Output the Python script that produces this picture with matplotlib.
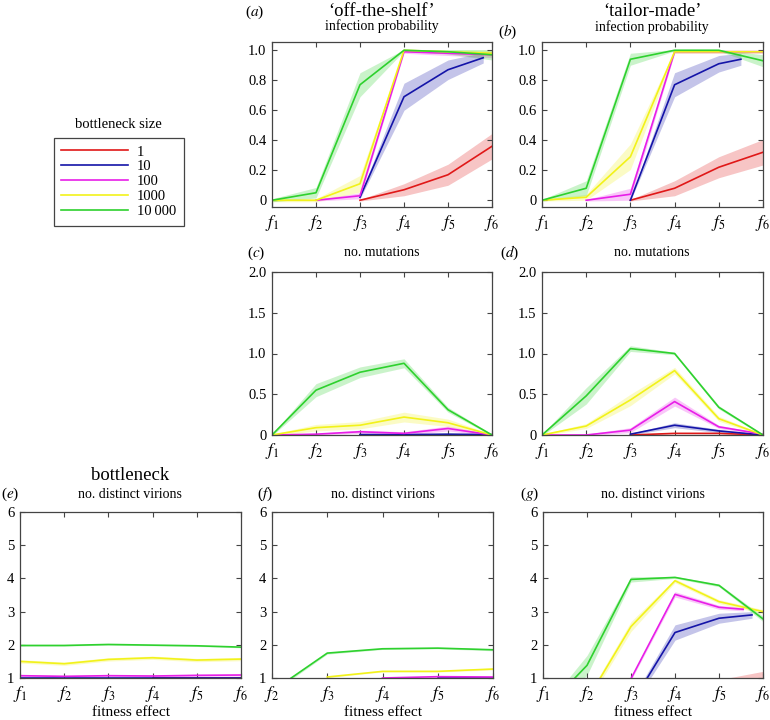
import numpy as np
import matplotlib
matplotlib.use("Agg")
import matplotlib.pyplot as plt
from matplotlib.lines import Line2D

plt.rcParams['font.family'] = ['Liberation Serif', 'DejaVu Serif']
plt.rcParams['mathtext.fontset'] = 'stix'

nan = np.nan
SIZES = ['1', '10', '100', '1000', '10\u2009000']
COLORS = ['#e01818', '#1414a8', '#e81ee8', '#f2f21a', '#2ed12e']
X_LABELS = ['$f_1$', '$f_2$', '$f_3$', '$f_4$', '$f_5$', '$f_6$']

# (a) off-the-shelf infection probability  [red, blue, magenta, yellow, green]
A_MEAN = [[nan, nan, 0.0, 0.07, 0.17, 0.36],
          [nan, nan, 0.02, 0.69, 0.87, 0.95],
          [nan, 0.0, 0.03, 0.99, 0.98, 0.97],
          [0.0, 0.0, 0.11, 1.0, 0.99, 0.98],
          [0.0, 0.05, 0.77, 1.0, 0.99, 0.97]]
A_ERR = [[nan, nan, 0.005, 0.04, 0.07, 0.085],
         [nan, nan, 0.01, 0.09, 0.065, 0.035],
         [nan, 0.005, 0.02, 0.01, 0.015, 0.02],
         [0.01, 0.01, 0.055, 0.005, 0.01, 0.02],
         [0.01, 0.035, 0.08, 0.005, 0.015, 0.035]]
A_LAST_X = [6, 5.8, 6, 6, 6]
# (b) tailor-made infection probability
B_MEAN = [[nan, nan, 0.0, 0.08, 0.22, 0.32],
          [nan, nan, 0.0, 0.77, 0.91, 0.94],
          [nan, 0.0, 0.04, 0.99, 0.99, 0.99],
          [0.0, 0.02, 0.29, 0.99, 0.99, 0.99],
          [0.0, 0.08, 0.94, 1.0, 1.0, 0.93]]
B_ERR = [[nan, nan, 0.005, 0.05, 0.07, 0.085],
         [nan, nan, 0.005, 0.08, 0.055, 0.04],
         [nan, 0.005, 0.04, 0.01, 0.01, 0.01],
         [0.005, 0.02, 0.085, 0.01, 0.01, 0.01],
         [0.005, 0.05, 0.04, 0.005, 0.005, 0.04]]
B_LAST_X = [6, 5.5, 6, 6, 6]
# (c) off-the-shelf no. mutations
C_MEAN = [[nan, nan, 0.0, 0.0, 0.0, 0.0],
          [nan, nan, 0.005, 0.005, 0.01, 0.005],
          [0.0, 0.01, 0.04, 0.02, 0.08, 0.0],
          [0.0, 0.09, 0.12, 0.22, 0.15, 0.0],
          [0.0, 0.55, 0.77, 0.88, 0.31, 0.0]]
C_ERR = [[nan, nan, 0.003, 0.003, 0.003, 0.003],
         [nan, nan, 0.005, 0.005, 0.01, 0.005],
         [0.01, 0.01, 0.02, 0.02, 0.03, 0.01],
         [0.01, 0.04, 0.045, 0.06, 0.045, 0.01],
         [0.01, 0.08, 0.065, 0.055, 0.03, 0.01]]
# (d) tailor-made no. mutations
D_MEAN = [[nan, nan, 0.0, 0.02, 0.02, 0.0],
          [nan, nan, 0.01, 0.12, 0.05, 0.0],
          [0.0, 0.0, 0.06, 0.41, 0.1, 0.01],
          [0.0, 0.11, 0.43, 0.79, 0.2, 0.0],
          [0.0, 0.48, 1.06, 1.0, 0.34, 0.0]]
D_ERR = [[nan, nan, 0.005, 0.005, 0.005, 0.005],
         [nan, nan, 0.01, 0.03, 0.02, 0.005],
         [0.005, 0.01, 0.03, 0.055, 0.02, 0.01],
         [0.01, 0.03, 0.07, 0.04, 0.03, 0.01],
         [0.01, 0.1, 0.035, 0.015, 0.02, 0.01]]
# (e) bottleneck no. distinct virions
E_MEAN = [[nan, nan, nan, 1.0, 1.0, 1.0],
          [1.0, 1.0, 1.0, 1.0, 1.0, 1.0],
          [1.07, 1.05, 1.07, 1.06, 1.08, 1.09],
          [1.5, 1.43, 1.56, 1.61, 1.54, 1.57],
          [1.98, 1.98, 2.01, 1.99, 1.97, 1.93]]
E_ERR = [[nan, nan, nan, 0.01, 0.01, 0.01],
         [0.01, 0.01, 0.01, 0.01, 0.01, 0.01],
         [0.03, 0.03, 0.03, 0.03, 0.03, 0.03],
         [0.05, 0.05, 0.05, 0.05, 0.05, 0.05],
         [0.02, 0.02, 0.02, 0.02, 0.02, 0.02]]
# (f) off-the-shelf no. distinct virions (f2..f6)
F_MEAN = [[nan, nan, nan, nan, nan],
          [nan, nan, nan, 1.0, 1.0],
          [nan, nan, 1.0, 1.04, 1.03],
          [nan, 1.03, 1.2, 1.2, 1.27],
          [0.6, 1.75, 1.88, 1.9, 1.85]]
F_ERR = [[nan, nan, nan, nan, nan],
         [nan, nan, nan, 0.01, 0.01],
         [nan, nan, 0.02, 0.02, 0.02],
         [nan, 0.02, 0.02, 0.02, 0.03],
         [0.05, 0.03, 0.02, 0.02, 0.03]]
# (g) tailor-made no. distinct virions
G_MEAN = [[nan, nan, nan, nan, 0.7, 0.9],
          [nan, nan, 0.2, 2.37, 2.8, 2.9],
          [nan, nan, 0.98, 3.52, 3.13, 3.07],
          [nan, 0.33, 2.55, 3.93, 3.3, 3.0],
          [0.0, 1.38, 3.97, 4.03, 3.79, 2.78]]
G_ERR = [[nan, nan, nan, nan, 0.25, 0.3],
         [nan, nan, 0.1, 0.23, 0.15, 0.1],
         [nan, nan, 0.05, 0.08, 0.06, 0.05],
         [nan, 0.1, 0.15, 0.06, 0.06, 0.06],
         [0.05, 0.3, 0.08, 0.03, 0.04, 0.08]]
G_LAST_X = [6, 5.75, 5.55, 6, 6]

W, H = 770, 720
fig = plt.figure(figsize=(W / 100, H / 100), dpi=100)


def add_ax(x0, y0, x1, y1):
    return fig.add_axes([x0 / W, 1 - y1 / H, (x1 - x0) / W, (y1 - y0) / H])


def ftxt(x, y, s, size, **kw):
    fig.text(x / W, 1 - y / H, s, ha='center', va='center', fontsize=size, **kw)


def draw(ax, means, errs, xs, xlabels, ylim, yticks, ylabels, last_x=None):
    xs = list(xs)
    if last_x is None:
        last_x = [xs[-1]] * len(means)
    for m, e, c, lx in zip(means, errs, COLORS, last_x):
        sx = np.array(xs[:-1] + [lx], dtype=float)
        m = np.asarray(m, dtype=float)
        e = np.asarray(e, dtype=float)
        ax.fill_between(sx, m - e, m + e, color=c, alpha=0.25, linewidth=0)
        ax.plot(sx, m, color=c, linewidth=1.2)
    ax.set_xlim(xs[0], xs[-1])
    ax.set_ylim(*ylim)
    ax.set_xticks(xs)
    ax.set_xticklabels(xlabels, fontsize=12.5)
    ax.set_yticks(yticks)
    ax.set_yticklabels(ylabels, fontsize=10.5)
    ax.tick_params(direction='in', top=True, right=True, length=3.5, width=0.8,
                   color='#444444', pad=4)
    for s in ax.spines.values():
        s.set_color('#444444')
        s.set_linewidth(0.9)


x6 = [1, 2, 3, 4, 5, 6]
x5 = [2, 3, 4, 5, 6]
p_ticks = [0, 0.2, 0.4, 0.6, 0.8, 1.0]
p_labels = ['0', '0.2', '0.4', '0.6', '0.8', '1.0']
m_ticks = [0, 0.5, 1.0, 1.5, 2.0]
m_labels = ['0', '0.5', '1.0', '1.5', '2.0']
v_ticks = [1, 2, 3, 4, 5, 6]
v_labels = ['1', '2', '3', '4', '5', '6']

ax_a = add_ax(272, 42, 492, 207)
draw(ax_a, A_MEAN, A_ERR, x6, X_LABELS, (-0.045, 1.055), p_ticks, p_labels, A_LAST_X)
ax_b = add_ax(542, 42, 763, 207)
draw(ax_b, B_MEAN, B_ERR, x6, X_LABELS, (-0.045, 1.055), p_ticks, p_labels, B_LAST_X)
ax_c = add_ax(272, 272, 492, 435)
draw(ax_c, C_MEAN, C_ERR, x6, X_LABELS, (0, 2), m_ticks, m_labels)
ax_d = add_ax(542, 272, 763, 435)
draw(ax_d, D_MEAN, D_ERR, x6, X_LABELS, (0, 2), m_ticks, m_labels)
ax_e = add_ax(20, 512, 241, 678)
draw(ax_e, E_MEAN, E_ERR, x6, X_LABELS, (1, 6), v_ticks, v_labels)
ax_f = add_ax(272, 512, 493, 678)
draw(ax_f, F_MEAN, F_ERR, x5, X_LABELS[1:], (1, 6), v_ticks, v_labels)
ax_g = add_ax(543, 512, 763, 678)
draw(ax_g, G_MEAN, G_ERR, x6, X_LABELS, (1, 6), v_ticks, v_labels, G_LAST_X)

for ax in (ax_e, ax_f, ax_g):
    ax.set_xlabel('fitness effect', fontsize=11, labelpad=2)

# titles
ftxt(382, 12, '\u2018off-the-shelf\u2019', 13.5)
ftxt(382, 26, 'infection probability', 10)
ftxt(255, 12, '($a$)', 11)
ftxt(652, 11, '\u2018tailor-made\u2019', 13.5)
ftxt(652, 27, 'infection probability', 10)
ftxt(508, 32, '($b$)', 11)
ftxt(382, 253, 'no. mutations', 10)
ftxt(256, 253, '($c$)', 11)
ftxt(652, 253, 'no. mutations', 10)
ftxt(510, 253, '($d$)', 11)
ftxt(130, 475, 'bottleneck', 13.5)
ftxt(130, 494, 'no. distinct virions', 10)
ftxt(10, 494, '($e$)', 11)
ftxt(383, 494, 'no. distinct virions', 10)
ftxt(265, 494, '($f$)', 11)
ftxt(653, 494, 'no. distinct virions', 10)
ftxt(530, 494, '($g$)', 11)

# legend
ftxt(118, 125, 'bottleneck size', 10.5)
handles = [Line2D([], [], color=c, linewidth=1.2) for c in COLORS]
leg = fig.legend(handles, SIZES, loc='upper left', bbox_to_anchor=(54 / W, 1 - 138 / H),
                 borderaxespad=0, fontsize=10.5, handlelength=4.6, labelspacing=0.12,
                 fancybox=False, edgecolor='#444444', framealpha=1,
                 borderpad=0.5, handletextpad=0.6)
leg.get_frame().set_linewidth(0.9)

fig.savefig('out.png', dpi=100)
